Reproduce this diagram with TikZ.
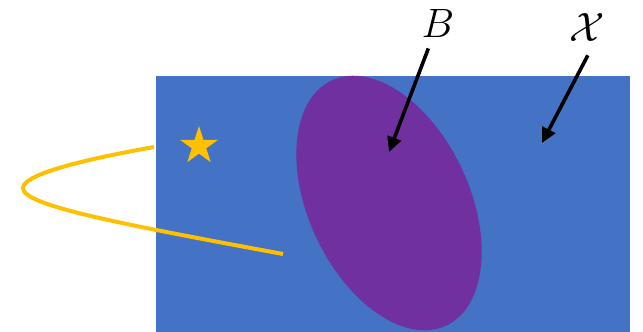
\RequirePackage{fix-cm}
\documentclass[tikz,border=0pt]{standalone}
\usetikzlibrary{shapes.geometric,arrows.meta}
\definecolor{setblue}{HTML}{4472C4}
\definecolor{setpurple}{HTML}{7030A0}
\definecolor{pathyellow}{HTML}{FFC000}
\begin{document}
\begin{tikzpicture}[
        x=1pt, y=-1pt,
        tag/.style={font=\fontsize{41}{48}\selectfont, inner sep=0pt, anchor=base},
        line/.style={draw, -{Triangle[length=15pt,width=14pt]}, line width=3.6pt}
    ]
        \useasboundingbox (0,0) rectangle (643,332);
        % the set X and the ball B
        \fill [setblue] (156,76) rectangle (630,332);
        \fill [setpurple, rotate around={25:(389,203)}] (389,203) ellipse [x radius=80.5, y radius=135.3];

        % start point and path
        \node [star, star points=5, star point ratio=2.618, minimum size=40pt, inner sep=0pt, fill=pathyellow] (goal) at (199,146) {};
        \draw [pathyellow, line width=4pt] (154,147) .. controls (70,162) and (23,176) .. (23,188)
            .. controls (23,205) and (110,222) .. (283,254);

        \node [tag] (ball) at (438,37) {$B$};
        \node [tag] (space) at (587,41) {$\mathcal{X}$};
        \coordinate (ballTip) at (389,152);
        \coordinate (spaceTip) at (542,143);

        \path [line, shorten <=12pt] (ball) -- (ballTip);
        \path [line, shorten <=16pt] (space.300) -- (spaceTip);
    \end{tikzpicture}
\end{document}
